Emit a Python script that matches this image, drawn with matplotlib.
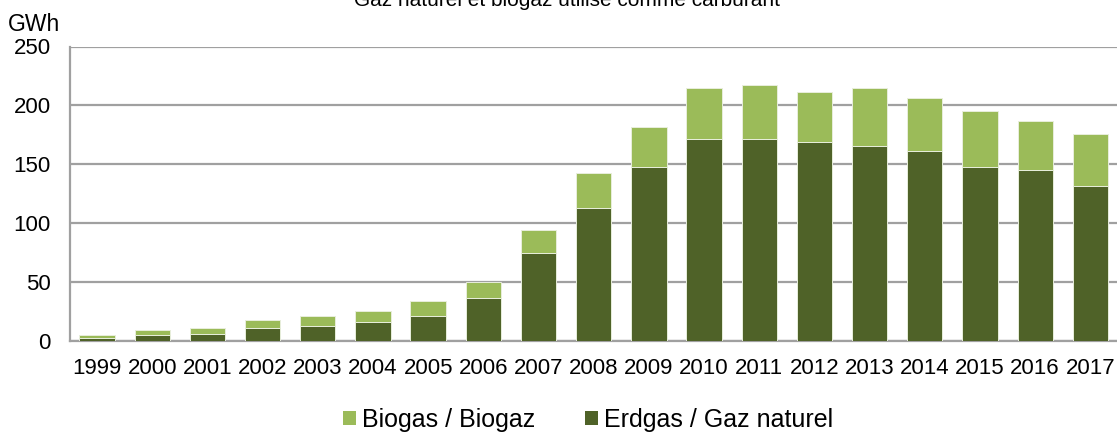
import matplotlib
matplotlib.use("Agg")
import matplotlib.pyplot as plt
from matplotlib.patches import Patch
import numpy as np

plt.rcParams['font.family'] = ['Liberation Sans', 'DejaVu Sans']

years = [str(y) for y in range(1999, 2018)]
erdgas = [2.3, 5.1, 6.0, 11.3, 12.8, 15.9, 21.5, 36.8, 75.1, 112.8, 148.0,
          171.8, 171.8, 168.6, 165.2, 161.0, 147.3, 144.8, 131.8]
total = [5.1, 9.4, 11.0, 17.9, 21.3, 25.5, 34.3, 50.2, 94.2, 142.5, 181.7,
         214.9, 217.7, 211.5, 214.6, 206.4, 195.3, 186.5, 176.0]
biogas = [t - e for t, e in zip(total, erdgas)]

yticks = [0, 50, 100, 150, 200, 250]

c_erd = '#4F6228'
c_bio = '#9BBB59'

W, H = 1117, 432
fig = plt.figure(figsize=(W / 100, H / 100), dpi=100)
ax = fig.add_axes([70 / W, 1 - 341 / H, 1048.5 / W, 294.5 / H])

x = np.arange(len(years))
bw = 0.64
ax.bar(x, erdgas, width=bw, color=c_erd, edgecolor='#E8EEDC', linewidth=0.7, zorder=3)
ax.bar(x, biogas, bottom=erdgas, width=bw, color=c_bio, edgecolor='#E8EEDC', linewidth=0.7, zorder=3)

ax.set_xlim(-0.49, 18.51)
ax.set_ylim(0, 250)
ax.set_yticks(yticks)
ax.set_xticks(x)
ax.set_xticklabels(years)
ax.tick_params(axis='both', length=0, labelsize=16, colors='black')
ax.tick_params(axis='y', pad=14)
ax.tick_params(axis='x', pad=12)
ax.yaxis.grid(True, color='#A0A0A0', linewidth=1.6, zorder=0)
ax.set_axisbelow(True)
for s in ['top', 'right']:
    ax.spines[s].set_visible(False)
for s in ['left', 'bottom']:
    ax.spines[s].set_color('#A0A0A0')
    ax.spines[s].set_linewidth(1.6)

fig.text(8 / W, 1 - 31 / H, 'GWh', fontsize=16.5, ha='left', va='baseline')
fig.text(567 / W, 1 - 6 / H, 'Gaz naturel et biogaz utilisé comme carburant',
         fontsize=15, ha='center', va='baseline')

handles = [Patch(facecolor=c_bio, edgecolor='none'), Patch(facecolor=c_erd, edgecolor='none')]
fig.legend(handles, ['Biogas / Biogaz', 'Erdgas / Gaz naturel'], ncol=2,
           loc='center', bbox_to_anchor=(588 / W, 1 - 420 / H), frameon=False,
           fontsize=18, handlelength=0.52, handleheight=0.52, handletextpad=0.22,
           columnspacing=2.0, borderpad=0, borderaxespad=0)

fig.savefig('out.png', dpi=100)
